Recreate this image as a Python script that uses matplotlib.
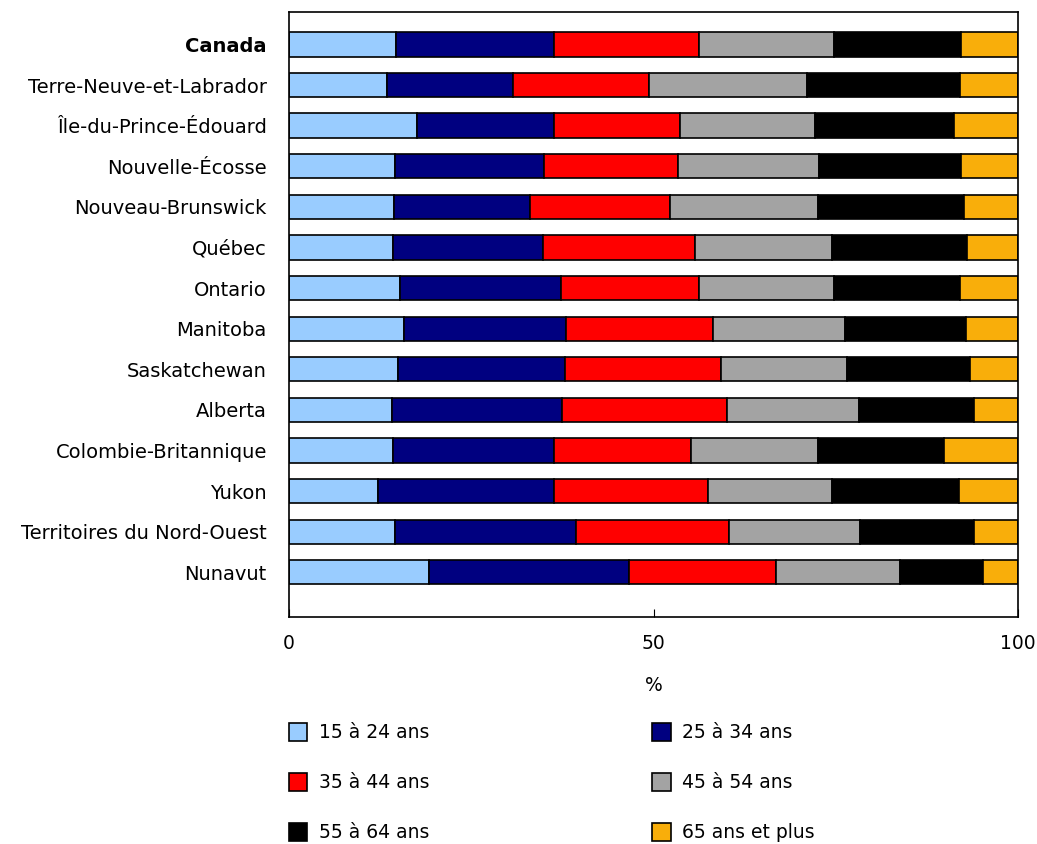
import matplotlib.pyplot as plt
from matplotlib.patches import Patch

regions = [
    "Canada", "Terre-Neuve-et-Labrador", "Île-du-Prince-Édouard", "Nouvelle-Écosse",
    "Nouveau-Brunswick", "Québec", "Ontario", "Manitoba", "Saskatchewan", "Alberta",
    "Colombie-Britannique", "Yukon", "Territoires du Nord-Ouest", "Nunavut",
]
age_groups = ["15 à 24 ans", "25 à 34 ans", "35 à 44 ans", "45 à 54 ans", "55 à 64 ans", "65 ans et plus"]

age_15_24 = [14.7, 13.4, 17.5, 14.5, 14.4, 14.3, 15.2, 15.8, 15.0, 14.1, 14.2, 12.2, 14.5, 19.2]
age_25_34 = [21.7, 17.3, 18.9, 20.5, 18.7, 20.5, 22.1, 22.2, 22.9, 23.4, 22.2, 24.2, 24.9, 27.4]
age_35_44 = [19.9, 18.7, 17.2, 18.4, 19.2, 20.9, 18.9, 20.2, 21.3, 22.6, 18.7, 21.1, 20.9, 20.2]
age_45_54 = [18.4, 21.7, 18.6, 19.3, 20.3, 18.8, 18.6, 18.1, 17.3, 18.1, 17.5, 17.0, 18.0, 17.0]
age_55_64 = [17.5, 20.9, 19.0, 19.5, 20.0, 18.5, 17.2, 16.6, 16.9, 15.8, 17.3, 17.4, 15.6, 11.4]
age_65_plus = [7.8, 8.0, 8.8, 7.8, 7.4, 7.0, 8.0, 7.1, 6.6, 6.0, 10.1, 8.1, 6.1, 4.8]

series = [age_15_24, age_25_34, age_35_44, age_45_54, age_55_64, age_65_plus]
colors = ["#99CCFF", "#000080", "#FF0000", "#A3A3A3", "#000000", "#F9AE0A"]

fig = plt.figure(figsize=(10.37, 8.44), dpi=100)
ax = fig.add_axes([0.2787, 0.2690, 0.7030, 0.7168])

y = list(range(len(regions)))
left = [0.0] * len(regions)
for vals, col, lab in zip(series, colors, age_groups):
    ax.barh(y, vals, left=left, height=0.6, color=col, edgecolor="black", linewidth=1.2, label=lab)
    left = [a + b for a, b in zip(left, vals)]

ax.set_xlim(0, 100)
ax.set_ylim(14.1, -0.8)
ax.set_xticks([0, 50, 100])
ax.tick_params(axis="x", direction="in", length=6, labelsize=13.5, pad=12)
ax.tick_params(axis="y", length=0, labelsize=14, pad=16)
ax.set_yticks(y)
ax.set_yticklabels(regions)
ax.get_yticklabels()[0].set_fontweight("bold")
ax.set_xlabel("%", fontsize=13.5, labelpad=17)
for sp in ax.spines.values():
    sp.set_linewidth(1.2)

handles = [Patch(facecolor=c, edgecolor="black", linewidth=1.2) for c in colors]
order = [0, 2, 4, 1, 3, 5]
fig.legend([handles[i] for i in order], [age_groups[i] for i in order],
           ncol=2, loc="upper left", bbox_to_anchor=(0.2712, 0.1527),
           frameon=False, fontsize=13.5, handlelength=1.0, handleheight=1.15,
           labelspacing=1.62, columnspacing=11.9, handletextpad=0.6, borderaxespad=0)

fig.savefig("out.png", dpi=100)
